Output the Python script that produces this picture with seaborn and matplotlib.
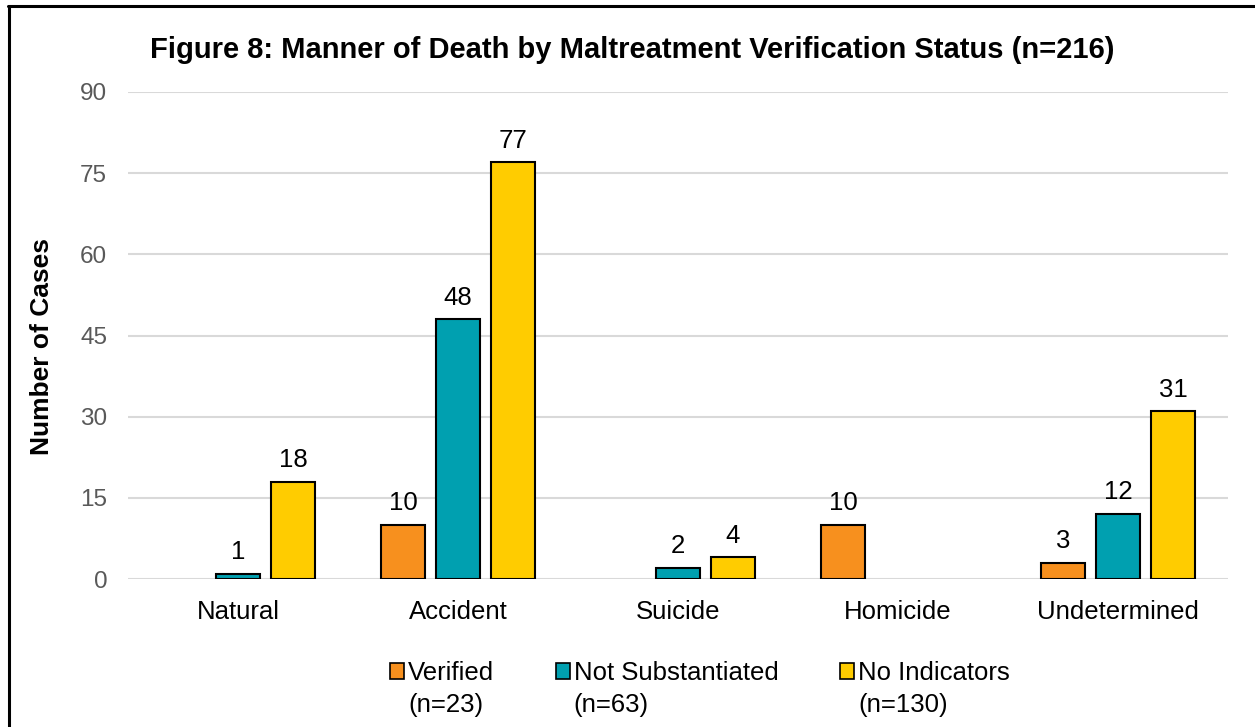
import matplotlib
matplotlib.use("Agg")
import matplotlib.pyplot as plt
import seaborn as sns
import pandas as pd
from matplotlib.lines import Line2D
from matplotlib.patches import Patch

categories = ["Natural", "Accident", "Suicide", "Homicide", "Undetermined"]
statuses = ["Verified", "Not Substantiated", "No Indicators"]
status_n = [23, 63, 130]
verified = [0, 10, 0, 10, 3]
not_substantiated = [1, 48, 2, 0, 12]
no_indicators = [18, 77, 4, 0, 31]
yticks = [0, 15, 30, 45, 60, 75, 90]
title = "Figure 8: Manner of Death by Maltreatment Verification Status (n=216)"
colors = ["#F7901E", "#00A0B0", "#FFCC00"]

rows = []
for s, vals in zip(statuses, [verified, not_substantiated, no_indicators]):
    for c, v in zip(categories, vals):
        rows.append({"Manner": c, "Status": s, "Count": v})
df = pd.DataFrame(rows)

sns.set_theme(style="white")
plt.rcParams["font.family"] = ["Liberation Sans", "DejaVu Sans"]
plt.rcParams["text.color"] = "black"
plt.rcParams["axes.labelcolor"] = "black"

fig = plt.figure(figsize=(12.55, 7.27), dpi=100)
ax = fig.add_axes([128 / 1255, 1 - 579 / 727, 1100 / 1255, (579 - 92) / 727])

sns.barplot(data=df, x="Manner", y="Count", hue="Status", order=categories,
            hue_order=statuses, palette=colors, saturation=1, width=0.75, gap=0.2,
            edgecolor="black", linewidth=1.5, legend=False, ax=ax, zorder=3)

# hide zero-height bars
for container in ax.containers:
    for b in container:
        if b.get_height() == 0:
            b.set_visible(False)

ax.set_ylim(0, 90)
ax.set_xlim(-0.5, 4.5)
ax.set_yticks(yticks)
ax.set_yticklabels([str(t) for t in yticks], color="#595959", fontsize=17.5)
ax.yaxis.grid(True, color="#D9D9D9", linewidth=1.5, zorder=0)
ax.set_axisbelow(True)
for sp in ax.spines.values():
    sp.set_visible(False)
ax.tick_params(axis="y", length=0, pad=15)
ax.tick_params(axis="x", length=0, pad=15)

ax.set_xticks(range(len(categories)))
ax.set_xticklabels(categories, fontsize=18.5, color="black")
ax.set_xlabel("")
ax.set_ylabel("Number of Cases", fontsize=19, fontweight="bold", color="black")
ax.yaxis.set_label_coords(-0.067, 0.478)

# value labels (only non-zero)
for container in ax.containers:
    labels = [f"{int(b.get_height())}" if b.get_height() > 0 else "" for b in container]
    ax.bar_label(container, labels=labels, padding=7, fontsize=18.5, color="black")

fig.text(632 / 1255, 1 - 50 / 727, title, ha="center", va="center",
         fontsize=21, fontweight="bold", color="black")

# legend: first line with marker, n-count line below
handles = [Patch(facecolor=c, edgecolor="black", linewidth=1.2) for c in colors]
leg = fig.legend(handles, statuses, loc="center", bbox_to_anchor=(700 / 1255, 1 - 673 / 727),
                 ncol=3, frameon=False, fontsize=18.5, handlelength=0.55, handleheight=0.55,
                 handletextpad=0.15, columnspacing=2.4, borderpad=0.1)
fig.canvas.draw()
inv = fig.transFigure.inverted()
for t, n in zip(leg.get_texts(), status_n):
    bb = t.get_window_extent()
    x0, y0 = inv.transform((bb.x0, bb.y0))
    fig.text(x0, 1 - 705 / 727, f"(n={n})", ha="left", va="center", fontsize=18.5,
             color="black")

# figure border (top and left visible)
fig.add_artist(Line2D([8 / 1255, 1], [1 - 6 / 727, 1 - 6 / 727], color="black", linewidth=2.2,
                      transform=fig.transFigure))
fig.add_artist(Line2D([8.5 / 1255, 8.5 / 1255], [0, 1 - 6 / 727], color="black", linewidth=2.2,
                      transform=fig.transFigure))

fig.savefig("out.png", dpi=100)
